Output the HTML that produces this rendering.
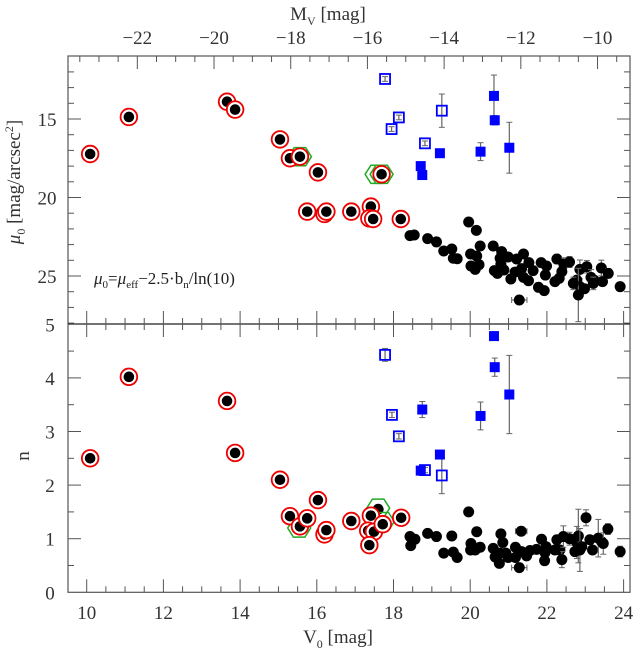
<!DOCTYPE html>
<html><head><meta charset="utf-8">
<style>
html,body{margin:0;padding:0;background:#fff;}
svg{display:block;font-family:"Liberation Serif",serif;}
</style></head>
<body>
<svg id="chart" width="637" height="656" viewBox="0 0 637 656" xmlns="http://www.w3.org/2000/svg"></svg>
<script>
// ---------- data ----------
const ringTopV  = [10.09,11.1,13.66,13.87,15.04,15.3,15.56,16.03,15.75,16.2,16.25,16.9,17.41,17.37,17.47,17.69,18.19];
const ringTopMu = [17.23,14.87,13.9,14.4,16.3,17.5,17.4,18.4,20.9,21.05,20.9,20.9,20.58,21.33,21.37,18.52,21.37];
const ringBotV  = [10.09,11.1,13.66,13.87,15.04,15.3,15.56,16.03,15.75,16.2,16.25,16.9,17.41,17.34,17.49,17.72,17.37,18.2];
const ringBotN  = [2.5,4.02,3.57,2.6,2.1,1.42,1.23,1.72,1.38,1.08,1.16,1.33,1.43,1.15,1.13,1.27,0.88,1.39];
const hexTopV  = [15.56,17.56,17.69];
const hexTopMu = [17.4,18.52,18.52];
const hexBotV  = [15.54,17.6,17.72];
const hexBotN  = [1.2,1.57,1.32];
const extraBotV = [17.6];
const extraBotN = [1.55];

const dotTopV  = [19.96,20.16,18.43,18.54,18.89,19.12,19.31,19.52,19.56,19.66,20.01,20.17,20.26,20.02,20.13,20.23,20.6,20.82,20.99,20.78,20.8,20.63,20.71,20.88,21.06,21.21,21.39,21.53,21.17,21.34,21.39,21.64,21.52,21.85,21.99,21.96,21.78,21.93,22.26,22.44,22.59,22.39,22.32,22.21,22.86,23.04,22.78,22.86,22.98,23.15,23.23,23.42,23.6,23.45,23.91,22.82,21.28,22.69,23.21];
const dotTopMu = [21.56,22.09,22.43,22.39,22.62,22.83,23.41,23.28,23.87,23.9,23.6,23.73,23.09,24.36,24.58,24.28,23.09,23.45,23.79,23.87,24.24,24.66,24.83,24.62,25.19,23.92,23.6,24.15,24.75,24.53,25.09,24.66,25.3,24.15,24.36,24.94,25.72,25.93,23.92,24.24,24.11,24.72,25.15,25.36,24.58,24.41,25.26,25.68,25.81,25.09,25.26,24.49,24.83,25.36,25.68,26.21,26.53,25.47,25.47];
const dotTopErr = [0,0,0,0,0,0,0,0,0,0,0,0,0,0,0,0,0,0,0,0,0,0,0,0,0,0,0,0,0,0,0,0,0,0,0,0,0,0,0.3,0.4,0.35,0,0,0,0.6,0.4,0,0,0,0.5,0,0.5,0.3,0,0.2,1.7,0,0.4,0.4];
const dotTopXErr = [0,0,0,0,0,0,0,0,0,0,0,0,0,0,0,0,0,0,0,0,0,0,0,0,0,0,0,0,0,0,0,0,0,0,0,0,0,0,0,0,0,0,0,0,0,0,0,0,0,0,0,0,0,0,0,0,0.2,0,0];

const dotBotV = [19.96,18.43,18.56,18.45,18.89,19.12,19.52,19.31,19.56,19.66,20.17,20.02,20.01,20.13,20.26,20.6,20.8,20.85,20.65,20.76,20.93,20.99,21.18,21.33,21.34,21.47,21.56,21.73,21.86,21.98,21.95,21.94,22.26,22.34,22.39,22.43,22.59,22.21,22.78,22.82,22.73,22.86,22.91,23.02,23.12,23.19,23.34,23.43,23.47,23.59,23.91,21.28,21.18,20.78];
const dotBotN = [1.5,1.04,0.99,0.87,1.1,1.04,1.05,0.73,0.75,0.65,1.13,0.91,0.79,0.79,0.84,0.82,1.09,0.93,0.66,0.54,0.73,0.65,0.84,1.14,0.76,0.68,0.78,0.8,0.99,0.85,0.74,0.59,0.98,0.79,0.61,1.04,1.0,0.79,0.93,1.05,0.76,0.79,0.85,1.39,0.98,0.79,1.01,0.94,0.91,1.18,0.76,0.46,0.65,0.73];
const dotBotErr = [0,0,0,0,0,0,0,0,0,0,0,0,0,0,0,0,0,0,0,0,0,0,0,0,0,0,0,0,0,0,0,0,0,0,0.15,0.2,0.12,0,0.3,0.5,0,0.4,0,0.15,0,0,0.35,0,0.2,0.1,0.1,0,0,0];
const dotBotXErr = [0,0,0,0,0,0,0,0,0,0,0,0,0,0,0,0,0,0,0,0,0,0,0,0.15,0,0,0,0,0,0,0,0,0,0,0,0,0,0,0,0,0,0,0,0,0,0,0,0,0,0,0,0.2,0,0];

const openTopV = [17.78,18.14,17.95,18.82,19.26];
const openTopMu = [12.45,14.9,15.64,16.55,14.47];
const openTopErr = [0.15,0.15,0.15,0.15,1.06];
const fillTopV = [20.62,20.64,19.21,18.71,18.75,20.27,21.02];
const fillTopMu = [13.53,15.08,17.18,18.0,18.57,17.08,16.83];
const fillTopErr = [1.33,0.3,0,0,0.15,0.57,1.62];
const openBotV = [17.78,17.96,18.14,18.82,19.26];
const openBotN = [4.43,3.31,2.91,2.28,2.18];
const openBotErr = [0.12,0.05,0.05,0.05,0.34];
const fillBotV = [20.62,20.64,18.75,20.27,21.02,19.21,18.71];
const fillBotN = [4.78,4.2,3.41,3.29,3.69,2.57,2.27];
const fillBotErr = [0,0.17,0.15,0.26,0.73,0,0];

const vTicks = [10,12,14,16,18,20,22,24];
const mTicks = [-22,-20,-18,-16,-14,-12,-10];
const muTicks = [15,20,25];
const nTicks = [0,1,2,3,4,5];

// ---------- axes ----------
const L=68, R=630, T=56, MID=324, B=592.3;
const xV = v => 86.7 + (v-10)*38.35;
const yMu = m => 119 + (m-15)*15.7;
const yN = n => B - n*53.6;
const MOFF = 33.32;
const svg = document.getElementById('chart');
const NS = 'http://www.w3.org/2000/svg';
function mk(tag, attrs, parent){ const e=document.createElementNS(NS,tag); for(const k in attrs) e.setAttribute(k,attrs[k]); (parent||svg).appendChild(e); return e; }

const axG = mk('g',{});


mk('rect',{x:L,y:T,width:R-L,height:B-T,fill:'none',stroke:'#555','stroke-width':1.2},axG);
mk('line',{x1:L,y1:MID,x2:R,y2:MID,stroke:'#222','stroke-width':1.2},axG);
const tk = (x1,y1,x2,y2)=>mk('line',{x1,y1,x2,y2,stroke:'#555','stroke-width':1},axG);
// V ticks (bottom & mid)
for(let v=9.5; v<=24.01; v+=0.5){
  const x=xV(v); if(x<L||x>R) continue;
  const maj = Math.abs(v-Math.round(v/2)*2)<1e-6; const len = maj?13:6;
  tk(x,B,x,B-len); tk(x,MID,x,MID-len); tk(x,MID,x,MID+len);
}
// M ticks (top)
for(let m=-23.5; m<=-9; m+=0.5){
  const x=xV(m+MOFF); if(x<L||x>R) continue;
  const maj = Math.abs(m-Math.round(m/2)*2)<1e-6; const len = maj?13:6;
  tk(x,T,x,T+len);
}
// mu ticks
for(let m=12; m<=28; m++){
  const y=yMu(m); if(y<T||y>MID) continue;
  const len = m%5===0?13:6; tk(L,y,L+len,y); tk(R,y,R-len,y);
}
// n ticks
for(let n=0.5; n<5; n+=0.5){
  const y=yN(n); const len = Math.abs(n-Math.round(n))<1e-6?13:6; tk(L,y,L+len,y); tk(R,y,R-len,y);
}
const txt = (x,y,s,attrs)=>{ const e=mk('text',Object.assign({x,y,'font-size':19,fill:'#333','text-anchor':'middle'},attrs||{})); e.textContent=s; return e; };
vTicks.forEach(v=>{ const e=txt(xV(v),619,String(v));

 });
mTicks.forEach(m=>{ const e=txt(xV(m+MOFF),44,'\u2212'+Math.abs(m));

 });
muTicks.forEach(m=>{ const e=txt(47,yMu(m)+7,String(m),{'text-anchor':'middle'});

 });
nTicks.forEach(n=>{ const e=txt(50,yN(n)+7,String(n));

 });

// ---------- marks ----------
const errLine=(x1,y1,x2,y2,cap,horiz)=>{
  mk('line',{x1,y1,x2,y2,stroke:'#666','stroke-width':1.2});
  if(!horiz){ mk('line',{x1:x1-3,y1,x2:x1+3,y2:y1,stroke:'#666'}); mk('line',{x1:x2-3,y1:y2,x2:x2+3,y2,stroke:'#666'}); }
  else { mk('line',{x1,y1:y1-3,x2:x1,y2:y1+3,stroke:'#666'}); mk('line',{x1:x2,y1:y2-3,x2,y2:y2+3,stroke:'#666'}); }
};
function dots(vs,ys,fy,errs,xerrs,name){
  vs.forEach((v,i)=>{
    const x=xV(v), y=fy(ys[i]);
    if(errs&&errs[i]) errLine(x,fy(ys[i]-errs[i]),x,fy(ys[i]+errs[i]));
    if(xerrs&&xerrs[i]) errLine(xV(v-xerrs[i]),y,xV(v+xerrs[i]),y,3,true);
    const c=mk('circle',{cx:x,cy:y,r:5.5,fill:'#000'});
    
    
  });
}
function rings(vs,ys,fy,name){
  vs.forEach((v,i)=>{
    const g=mk('g',{});
    
    
    mk('circle',{cx:xV(v),cy:fy(ys[i]),r:8.3,fill:'#fff',stroke:'#e00','stroke-width':1.8},g);
    mk('circle',{cx:xV(v),cy:fy(ys[i]),r:5.3,fill:'#000'},g);
  });
}
function hexes(vs,ys,fy,name){
  vs.forEach((v,i)=>{
    const cx=xV(v), cy=fy(ys[i]); let p=[];
    for(let k=0;k<6;k++){ const a=Math.PI/3*k; p.push((cx+11.5*Math.cos(a)).toFixed(1)+','+(cy+10.5*Math.sin(a)).toFixed(1)); }
    const h=mk('polygon',{points:p.join(' '),fill:'none',stroke:'#2a2','stroke-width':1.5});
    
    
  });
}
function squares(vs,ys,fy,errs,open,name){
  vs.forEach((v,i)=>{
    const x=xV(v), y=fy(ys[i]);
    if(errs&&errs[i]) errLine(x,fy(ys[i]-errs[i]),x,fy(ys[i]+errs[i]));
    const s=mk('rect',{x:x-5,y:y-5,width:10,height:10,fill:open?'none':'#00f',stroke:'#00f','stroke-width':open?1.8:0});
    
    
  });
}
// top panel
dots(dotTopV,dotTopMu,yMu,dotTopErr,dotTopXErr,'top-black-point');
hexes(hexTopV,hexTopMu,yMu,'top-hexagon-marker');
rings(ringTopV,ringTopMu,yMu,'top-ringed-point');
squares(openTopV,openTopMu,yMu,openTopErr,true,'top-open-square');
squares(fillTopV,fillTopMu,yMu,fillTopErr,false,'top-filled-square');
// bottom panel
dots(dotBotV,dotBotN,yN,dotBotErr,dotBotXErr,'bottom-black-point');
dots(extraBotV,extraBotN,yN,null,null,'bottom-black-point');
hexes(hexBotV,hexBotN,yN,'bottom-hexagon-marker');
rings(ringBotV,ringBotN,yN,'bottom-ringed-point');
squares(openBotV,openBotN,yN,openBotErr,true,'bottom-open-square');
squares(fillBotV,fillBotN,yN,fillBotErr,false,'bottom-filled-square');
</script>
<svg style="position:absolute;left:0;top:0" width="637" height="656">
  <text x="328" y="20" font-size="19" fill="#333" text-anchor="middle" font-family="Liberation Serif, serif">M<tspan font-size="12" dy="5">V</tspan><tspan dy="-5"> [mag]</tspan></text>
  <text x="338" y="643" font-size="19" fill="#333" text-anchor="middle" font-family="Liberation Serif, serif">V<tspan font-size="12" dy="5">0</tspan><tspan dy="-5"> [mag]</tspan></text>
  <text transform="translate(20,182) rotate(-90)" font-size="19" fill="#333" text-anchor="middle" font-family="Liberation Serif, serif"><tspan font-style="italic">μ</tspan><tspan font-size="12" dy="5">0</tspan><tspan dy="-5"> [mag/arcsec</tspan><tspan font-size="12" dy="-7">2</tspan><tspan dy="7">]</tspan></text>
  <text x="28" y="465" font-size="19" fill="#333" text-anchor="middle" transform="rotate(-90,24,460)" font-family="Liberation Serif, serif">n</text>
  <text x="94" y="284" font-size="17" fill="#222" font-family="Liberation Serif, serif"><tspan font-style="italic">μ</tspan><tspan font-size="11" dy="4">0</tspan><tspan dy="-4">=</tspan><tspan font-style="italic">μ</tspan><tspan font-size="11" dy="4">eff</tspan><tspan dy="-4">−2.5·b</tspan><tspan font-size="11" dy="4">n</tspan><tspan dy="-4">/ln(10)</tspan></text>
</svg>
</body></html>
